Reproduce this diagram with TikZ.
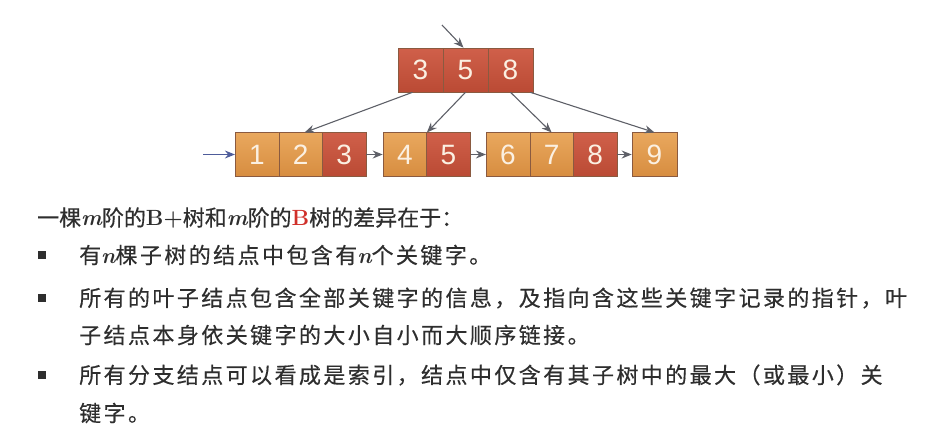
\documentclass[tikz,border=0pt]{standalone}
\usepackage{fontspec}
\newfontfamily\cjk[FakeBold=0.4]{Noto Sans CJK SC}
\newfontfamily\cjkwide[LetterSpace=11,FakeBold=0.4]{Noto Sans CJK SC}
\newfontfamily\digitfont{Liberation Sans}
\usetikzlibrary{calc,arrows.meta}

\definecolor{lighttop}{HTML}{E9A85E}
\definecolor{lightbottom}{HTML}{D78D40}
\definecolor{redtop}{HTML}{D0604A}
\definecolor{redbottom}{HTML}{BA4A34}
\definecolor{cellline}{HTML}{8A5A40}
\definecolor{celltext}{HTML}{FBF0E2}
\definecolor{linkgray}{HTML}{5E6068}
\definecolor{linkblue}{HTML}{4E5C9A}
\definecolor{textgray}{HTML}{2E2E2E}
\definecolor{bred}{HTML}{D0302A}

\tikzset{
	cell/.style={draw=cellline, line width=0.6pt, minimum width=43.6pt, minimum height=43.5pt,
		inner sep=0pt, font=\digitfont\fontsize{28}{28}\selectfont, text=celltext},
	lightcell/.style={cell, top color=lighttop, bottom color=lightbottom},
	redcell/.style={cell, top color=redtop, bottom color=redbottom},
	link/.style={draw=linkgray, line width=1.1pt, -{Stealth[length=10pt,width=8pt]}},
	bulletbox/.style={fill=textgray, minimum size=8pt, inner sep=0pt},
	textline/.style={anchor=west, inner sep=0pt, text=textgray,
		font=\cjkwide\fontsize{22}{22}\selectfont}
}
\newcommand{\latinbi}[1]{{\rmfamily\bfseries\itshape #1}}

\begin{document}
\begin{tikzpicture}[x=1pt, y=-1pt]
	\useasboundingbox (0,0) rectangle (942,432);

	% Root node
	\node[redcell, minimum width=45pt, minimum height=44pt] (r1) at (420.5,70) {3};
	\node[redcell, minimum width=45pt, minimum height=44pt] (r2) at (465.5,70) {5};
	\node[redcell, minimum width=45pt, minimum height=44pt] (r3) at (510.5,70) {8};

	% Leaf nodes
	\node[lightcell] (a1) at (257,154.5) {1};
	\node[lightcell] (a2) at (300.6,154.5) {2};
	\node[redcell]   (a3) at (344.2,154.5) {3};

	\node[lightcell] (b1) at (404.8,154.5) {4};
	\node[redcell]   (b2) at (448.4,154.5) {5};

	\node[lightcell] (c1) at (508,154.5) {6};
	\node[lightcell] (c2) at (551.6,154.5) {7};
	\node[redcell]   (c3) at (595.2,154.5) {8};

	\node[lightcell, minimum width=45pt] (d1) at (654.5,154.5) {9};

	% Entry pointers
	\coordinate (rootin) at (442,25);
	\coordinate (leafin) at (203,154.5);
	\draw[link] (rootin) -- ([xshift=-2]r2.north);
	\draw[link, draw=linkblue] (leafin) -- (a1.west);

	% Root to leaves
	\draw[link] ([xshift=-8]r1.south) -- ([xshift=4]a2.north);
	\draw[link] (r2.south) -- (b1.north east);
	\draw[link] (r3.south) -- (c2.north);
	\draw[link] ([xshift=-3]r3.south east) -- (d1.north);

	% Leaf chain
	\draw[link] (a3.east) -- (b1.west);
	\draw[link] (b2.east) -- (c1.west);
	\draw[link] (c3.east) -- (d1.west);

	% Text
	\node[textline, font=\cjk\fontsize{22}{22}\selectfont] (t1) at (37,218)
		{一棵\latinbi{m}阶的{\rmfamily\bfseries B+}树和\latinbi{m}阶的{\rmfamily\bfseries\color{bred}B}树的差异在于：};
	\node[textline] (t2) at (79,255) {有\latinbi{n}棵子树的结点中包含有\latinbi{n}个关键字。};
	\node[textline] (t3) at (79,298) {所有的叶子结点包含全部关键字的信息，及指向含这些关键字记录的指针，叶};
	\node[textline] (t4) at (79,335) {子结点本身依关键字的大小自小而大顺序链接。};
	\node[textline] (t5) at (79,375) {所有分支结点可以看成是索引，结点中仅含有其子树中的最大（或最小）关};
	\node[textline] (t6) at (79,413) {键字。};

	% Bullets
	\node[bulletbox] (p1) at (42,255) {};
	\node[bulletbox] (p2) at (42,298) {};
	\node[bulletbox] (p3) at (42,375) {};
\end{tikzpicture}
\end{document}
